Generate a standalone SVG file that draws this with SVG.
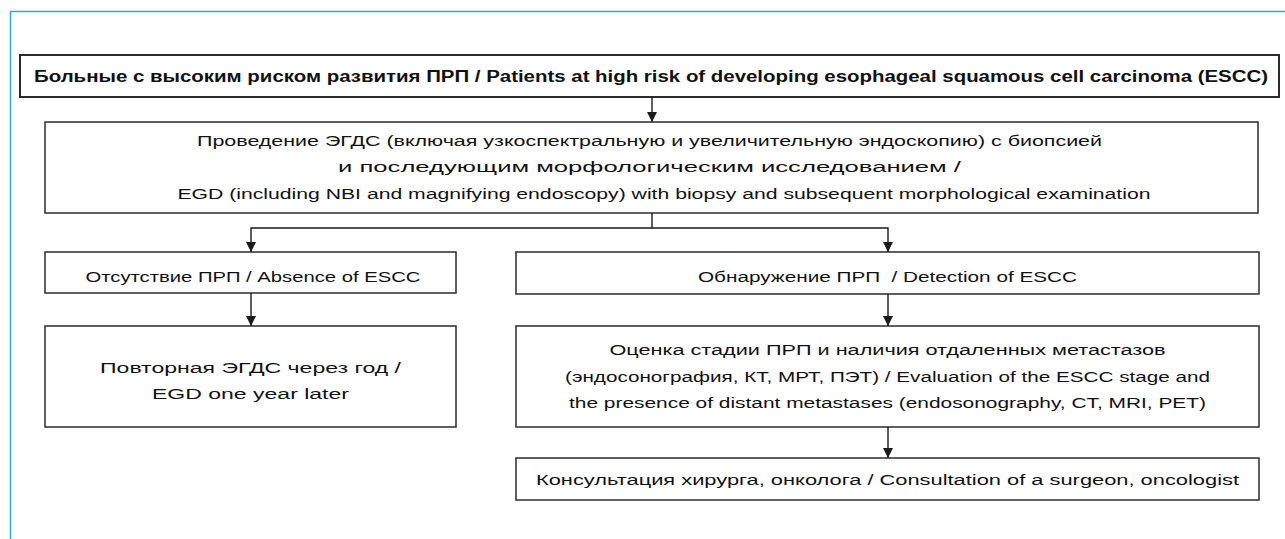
<svg xmlns="http://www.w3.org/2000/svg" width="1285" height="539" viewBox="0 0 1285 539">
<defs>
<marker id="ah" viewBox="0 0 10 10" refX="10" refY="5" markerWidth="10" markerHeight="10" markerUnits="userSpaceOnUse" orient="auto">
<path d="M0,0 L10,5 L0,10 Z" fill="#1a1a1a"/>
</marker>
<style>
.box{fill:#fff;stroke:#2b2b2b;stroke-width:1.5}
.tbox{fill:#fff;stroke:#2b2b2b;stroke-width:2}
.t{font-family:"Liberation Sans","Noto Sans",Arial,sans-serif;font-size:15.5px;fill:#111;text-anchor:middle}
.b{font-weight:bold;font-size:16px}
.c{fill:none;stroke:#1a1a1a;stroke-width:1.4}
</style>
</defs>
<rect width="1285" height="539" fill="#fff"/>
<path d="M10.5,539 V11.5 H1285" fill="none" stroke="#29abe2" stroke-width="1.5"/>

<g id="n1">
<rect class="tbox" x="20" y="55" width="1259" height="42"/>
<text class="t b" x="651" y="82" textLength="1234" lengthAdjust="spacingAndGlyphs">Больные с высоким риском развития ПРП / Patients at high risk of developing esophageal squamous cell carcinoma (ESCC)</text>
</g>
<g id="n2">
<rect class="box" x="45" y="122" width="1213" height="91"/>
<text class="t" x="649.5" y="145.5" textLength="905" lengthAdjust="spacingAndGlyphs">Проведение ЭГДС (включая узкоспектральную и увеличительную эндоскопию) с биопсией</text>
<text class="t" x="649.5" y="172" textLength="623" lengthAdjust="spacingAndGlyphs">и последующим морфологическим исследованием /</text>
<text class="t" x="664" y="199" textLength="973" lengthAdjust="spacingAndGlyphs">EGD (including NBI and magnifying endoscopy) with biopsy and subsequent morphological examination</text>
</g>
<g id="n3">
<rect class="box" x="45" y="252" width="411" height="41"/>
<text class="t" x="253" y="282" textLength="335" lengthAdjust="spacingAndGlyphs">Отсутствие ПРП / Absence of ESCC</text>
</g>
<g id="n4">
<rect class="box" x="516" y="252" width="743" height="42"/>
<text class="t" x="887.5" y="282" textLength="379" lengthAdjust="spacingAndGlyphs" xml:space="preserve">Обнаружение ПРП  / Detection of ESCC</text>
</g>
<g id="n5">
<rect class="box" x="45" y="326" width="411" height="101"/>
<text class="t" x="250.5" y="373" textLength="301" lengthAdjust="spacingAndGlyphs">Повторная ЭГДС через год /</text>
<text class="t" x="250.5" y="399" textLength="197" lengthAdjust="spacingAndGlyphs">EGD one year later</text>
</g>
<g id="n6">
<rect class="box" x="516" y="326" width="743" height="101"/>
<text class="t" x="887.5" y="355" textLength="556" lengthAdjust="spacingAndGlyphs">Оценка стадии ПРП и наличия отдаленных метастазов</text>
<text class="t" x="887.5" y="381.5" textLength="645" lengthAdjust="spacingAndGlyphs">(эндосонография, КТ, МРТ, ПЭТ) / Evaluation of the ESCC stage and</text>
<text class="t" x="887.5" y="408" textLength="637" lengthAdjust="spacingAndGlyphs">the presence of distant metastases (endosonography, CT, MRI, PET)</text>
</g>
<g id="n7">
<rect class="box" x="516" y="458" width="743" height="42"/>
<text class="t" x="887.5" y="484.5" textLength="703" lengthAdjust="spacingAndGlyphs">Консультация хирурга, онколога / Consultation of a surgeon, oncologist</text>
</g>

<g id="connectors">
<path class="c" d="M652,97 V122" marker-end="url(#ah)"/>
<path class="c" d="M652,213 V228 H251 V252" marker-end="url(#ah)"/>
<path class="c" d="M652,228 H888 V252" marker-end="url(#ah)"/>
<path class="c" d="M251,293 V326" marker-end="url(#ah)"/>
<path class="c" d="M888,294 V326" marker-end="url(#ah)"/>
<path class="c" d="M888,427 V458" marker-end="url(#ah)"/>
</g>
</svg>
